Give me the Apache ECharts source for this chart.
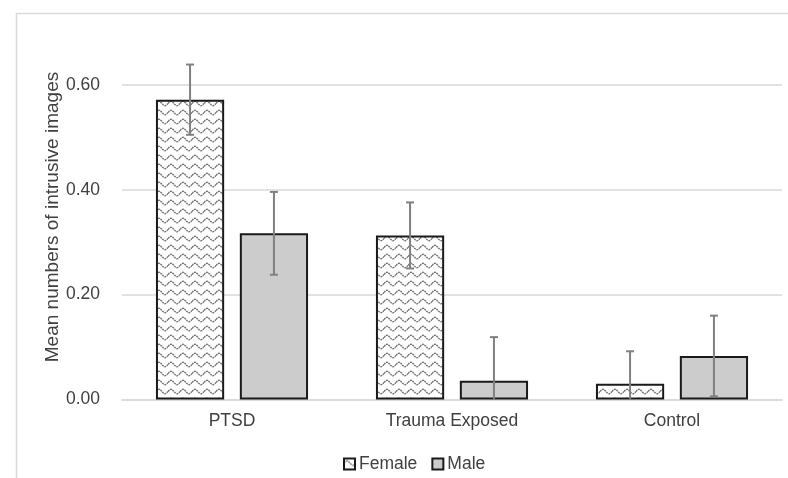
<!DOCTYPE html>
<html>
<head>
<meta charset="utf-8">
<script src="https://cdn.jsdelivr.net/npm/echarts@6/dist/echarts.min.js"></script>
<style>
html,body{margin:0;padding:0;background:#fff;}
#c{width:788px;height:478px;}
</style>
</head>
<body>
<div id="c"></div>
<script>
var categories = ['PTSD', 'Trauma Exposed', 'Control'];
var femaleMeans = [0.572, 0.313, 0.030];
var maleMeans = [0.317, 0.036, 0.083];
var femaleErr = [0.067, 0.063, 0.062];
var maleErr = [0.079, 0.083, 0.077];
var yTicks = [0, 0.2, 0.4, 0.6];

function makeWave() {
  var cv = document.createElement('canvas');
  cv.width = 12; cv.height = 9;
  var ctx = cv.getContext('2d');
  ctx.fillStyle = '#ffffff';
  ctx.fillRect(0, 0, 12, 9);
  ctx.strokeStyle = '#6e6e6e';
  ctx.lineWidth = 1.4;
  ctx.setLineDash([2, 0.7]);
  ctx.beginPath();
  for (var i = 0; i <= 24; i++) {
    var x = i * 0.5;
    var y = 4.5 - 2.2 * Math.sin(x / 12 * 2 * Math.PI);
    if (i === 0) ctx.moveTo(x, y); else ctx.lineTo(x, y);
  }
  ctx.stroke();
  return cv;
}
var wave = makeWave();
var femaleFill = { image: wave, repeat: 'repeat' };

var BAR_W = 0.31, BAR_GAP = 0.23;
function errData(means, errs) {
  return means.map(function (m, i) { return [i, m - errs[i], m + errs[i]]; });
}
function errRender(side) {
  return function (params, api) {
    var band = api.size([1, 0])[0];
    var bw = band * BAR_W;
    var off = side * (bw + bw * BAR_GAP) / 2;
    var lowV = api.value(1), highV = api.value(2);
    var clipped = lowV < 0;
    if (clipped) lowV = 0;
    var pHigh = api.coord([api.value(0), highV]);
    var pLow = api.coord([api.value(0), lowV]);
    var x = pHigh[0] + off;
    var cap = 4;
    var st = { stroke: '#808080', lineWidth: 2 };
    var children = [
      { type: 'line', shape: { x1: x, y1: pHigh[1], x2: x, y2: pLow[1] }, style: st },
      { type: 'line', shape: { x1: x - cap, y1: pHigh[1], x2: x + cap, y2: pHigh[1] }, style: st }
    ];
    if (!clipped) {
      children.push({ type: 'line', shape: { x1: x - cap, y1: pLow[1], x2: x + cap, y2: pLow[1] }, style: st });
    }
    return { type: 'group', children: children };
  };
}

var txt = '#404040';
var FS = 17.5;
var chart = echarts.init(document.getElementById('c'), null, { renderer: 'canvas' });
chart.setOption({
  backgroundColor: '#ffffff',
  animation: false,
  textStyle: { fontFamily: 'Liberation Sans, Arial, sans-serif' },
  grid: { left: 122, right: 6, top: 85, bottom: 78.5, containLabel: false },
  legend: {
    data: ['Female', 'Male'],
    left: 338, top: 450,
    itemWidth: 11, itemHeight: 11, itemGap: 14,
    icon: 'rect',
    textStyle: { color: txt, fontSize: FS, padding: [0, 0, 0, -1] }
  },
  graphic: [
    { type: 'polyline', shape: { points: [[16.5, 478], [16.5, 13.5], [788, 13.5]] },
      style: { stroke: '#d9d9d9', lineWidth: 1.5, fill: null }, silent: true },
    { type: 'text', x: 53, y: 217, rotation: Math.PI / 2,
      style: { text: 'Mean numbers of intrusive images', fill: txt, font: '19px "Liberation Sans", Arial, sans-serif',
               textAlign: 'center', textVerticalAlign: 'middle' } }
  ],
  xAxis: {
    type: 'category', data: categories,
    axisLine: { lineStyle: { color: '#d9d9d9', width: 1.5 } },
    axisTick: { show: false },
    axisLabel: { color: txt, fontSize: FS, margin: 13 }
  },
  yAxis: {
    type: 'value', min: yTicks[0], max: yTicks[yTicks.length - 1], interval: 0.2,
    axisLine: { show: false }, axisTick: { show: false },
    splitLine: { lineStyle: { color: '#d9d9d9', width: 1.5 } },
    axisLabel: { color: txt, fontSize: FS, margin: 22, formatter: function (v) { return v.toFixed(2); } }
  },
  series: [
    { name: 'Female', type: 'bar', data: femaleMeans, barWidth: (BAR_W * 100) + '%', barGap: (BAR_GAP * 100) + '%',
      itemStyle: { color: femaleFill, borderColor: '#1a1a1a', borderWidth: 2 } },
    { name: 'Male', type: 'bar', data: maleMeans, barWidth: (BAR_W * 100) + '%',
      itemStyle: { color: '#cccccc', borderColor: '#1a1a1a', borderWidth: 2 } },
    { name: 'femaleErr', type: 'custom', data: errData(femaleMeans, femaleErr), renderItem: errRender(-1), z: 10,
      encode: { x: 0, y: [1, 2] }, silent: true },
    { name: 'maleErr', type: 'custom', data: errData(maleMeans, maleErr), renderItem: errRender(1), z: 10,
      encode: { x: 0, y: [1, 2] }, silent: true }
  ]
});
</script>
</body>
</html>
